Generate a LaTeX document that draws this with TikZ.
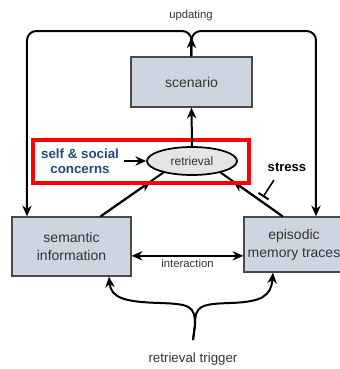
\documentclass[tikz,border=0pt]{standalone}
\usepackage{fontspec}
\setmainfont{Liberation Sans}
\usetikzlibrary{arrows.meta,positioning,shapes.geometric}
\definecolor{boxfill}{HTML}{CDD6E0}
\definecolor{boxline}{HTML}{4A4A4A}
\definecolor{selfblue}{HTML}{1F4A7C}
\definecolor{txtgrey}{HTML}{333333}
\def\px{0.75pt}
\begin{document}
\begin{tikzpicture}[x=0.75pt,y=-0.75pt,
  block/.style={rectangle,draw=boxline,line width=1pt,fill=boxfill,text=txtgrey,align=center,inner sep=0pt,font=\fontsize{10.5}{13.5}\selectfont},
  lbl/.style={text=txtgrey,inner sep=1pt,font=\fontsize{8.5}{10}\selectfont},
  link/.style={line width=1.5pt,-{Stealth[length=8pt,width=7pt,inset=2.5pt]}}]
\def\yLoop{31}
\def\xLeft{27}
\def\xRight{316}
\useasboundingbox (0,0) rectangle (340,369);
  %\draw[help lines] (0,0) grid[step=20] (340,369);
\path
(191.5,82) node [block,minimum width=121*\px,minimum height=50*\px] (scenario) {scenario}
(71.5,246.5) node [block,minimum width=119*\px,minimum height=59*\px] (semantic) {semantic\\information}
(294,244.5) node [block,minimum width=100*\px,minimum height=55*\px] (episodic) {episodic\\memory traces}
(192,161) node [ellipse,draw,line width=1.3pt,fill=black!10,text=txtgrey,inner sep=0pt,minimum width=90*\px,minimum height=28*\px,font=\fontsize{9}{11}\selectfont] (retrieval) {retrieval}
(191,16) node [lbl] (updating) {updating}
(193,359) node [text=txtgrey,font=\fontsize{10}{12}\selectfont] (trigger) {retrieval trigger}
(80,161) node [text=selfblue,align=center,font=\bfseries\fontsize{10}{11.3}\selectfont] (self) {self \& social\\concerns}
(287,167) node [font=\bfseries\fontsize{9.8}{12}\selectfont] (stress) {stress}
;
\coordinate (lcol) at (\xLeft,\yLoop);
\coordinate (rcol) at (\xRight,\yLoop);
\coordinate (sfoot) at (274,180);
\coordinate (sbar) at (263,197);

% updating loop
\begin{scope}[line width=1.5pt,rounded corners=7pt]
\draw[link] (scenario.north) -- (scenario.north |- lcol) -- (lcol) -- (semantic.north -| lcol);
\draw[link] (scenario.north) -- (scenario.north |- rcol) -- (rcol) -- (episodic.north -| rcol);
\end{scope}
\draw[link] (scenario.north) -- ++(0,-19);

% into retrieval
\draw[line width=1.5pt] (semantic.46) -- (retrieval.202);
\draw[line width=1.5pt] (episodic.112) -- (retrieval.338);
\draw[link,shorten >=11.5pt] (semantic.46) -- (retrieval.202);
\draw[link,shorten >=11.5pt] (episodic.112) -- (retrieval.338);
\draw[red,line width=2.4pt] (33,140) rectangle (249,183);
\draw[link] (retrieval.north) -- (scenario.south);
\draw[link] (self.east) -- (retrieval.west);
\draw[line width=1.2pt,-{Bar[width=9pt,line width=1.5pt]}] (sfoot) -- (sbar);

% interaction
\draw[line width=1.5pt,{Stealth[length=8pt,width=7pt,inset=2.5pt]}-{Stealth[length=8pt,width=7pt,inset=2.5pt]}]
  ([yshift=-7pt]semantic.east) -- ([yshift=-7pt]episodic.west |- semantic.east) node[midway,below=1pt,lbl] (interact) {interaction};

% retrieval trigger
\draw[link] ([yshift=6pt]trigger.north) -- (195,325) .. controls (195,306) and (190,304) .. (160,303) .. controls (125,302) and (111,298) .. (semantic.south -| 109,0);
\draw[link] ([yshift=6pt]trigger.north) -- (195,325) .. controls (195,306) and (200,304) .. (230,303) .. controls (262,302) and (271,296) .. (episodic.south -| 273,0);
\end{tikzpicture}
\end{document}
